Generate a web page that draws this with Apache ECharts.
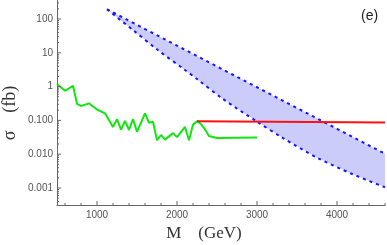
<!DOCTYPE html>
<html><head><meta charset="utf-8">
<script src="https://cdn.jsdelivr.net/npm/echarts@6/dist/echarts.min.js"></script>
<style>html,body{margin:0;padding:0;background:#fff}#c{width:387px;height:245px}</style>
</head><body><div id="c"></div>
<script>
// x tick labels (GeV)
const xTickLabels = [1000, 2000, 3000, 4000];
// y tick labels (fb)
const yTickLabels = ['0.001', '0.010', '0.100', '1', '10', '100'];

// green curve
const greenM = [500, 600, 700, 750, 800, 900, 1000, 1100, 1200, 1250, 1300, 1350, 1400, 1450, 1500, 1600, 1650, 1700, 1750, 1800, 1850, 1950, 2000, 2100, 2150, 2200, 2250, 2300, 2350, 2400, 2500, 3000];
const greenSigma = [1.19, 0.75, 1.06, 0.31, 0.267, 0.32, 0.21, 0.162, 0.064, 0.109, 0.053, 0.097, 0.052, 0.109, 0.046, 0.162, 0.085, 0.091, 0.026, 0.037, 0.027, 0.042, 0.032, 0.064, 0.026, 0.075, 0.095, 0.078, 0.054, 0.0345, 0.030, 0.031];

// red line
const redM = [2250, 4600];
const redSigma = [0.095, 0.086];

// blue band edges
const bandUpperM = [1125, 1500, 2000, 2500, 3000, 3500, 4000, 4600];
const bandUpperSigma = [194, 67, 16.3, 3.94, 0.957, 0.232, 0.0564, 0.0103];
const bandLowerM = [1125, 1450, 1760, 2100, 2250, 2575, 3000, 3325, 3760, 4190, 4600];
const bandLowerSigma = [194, 47, 12.1, 3.1, 1.68, 0.43, 0.092, 0.030, 0.0077, 0.0026, 0.00105];

const X_MIN = 500, X_MAX = 4600, Y_MIN = 0.000314, Y_MAX = 365;

const xMajor = xTickLabels.slice();
const xMinor = [];
for (let v = 600; v <= 4600; v += 200) if (v % 1000 !== 0) xMinor.push(v);
const yMajor = yTickLabels.map(Number);
const yMinor = [];
for (let k = -4; k <= 2; k++) for (let m = 2; m <= 9; m++) {
  const v = m * Math.pow(10, k);
  if (v > Y_MIN && v < Y_MAX) yMinor.push(v);
}

const zip = (a, b) => a.map((v, i) => [v, b[i]]);
const AX = '#666';

function tickSeries(vals, axis, len) {
  return {
    type: 'custom', silent: true, clip: false, z: 10,
    data: vals.map(v => axis === 'x' ? [v, Y_MIN] : [X_MIN, v]),
    renderItem: (params, api) => {
      const p = api.coord([api.value(0), api.value(1)]);
      const shape = axis === 'x'
        ? { x1: p[0], y1: p[1], x2: p[0], y2: p[1] - len }
        : { x1: p[0], y1: p[1], x2: p[0] + len, y2: p[1] };
      return { type: 'line', shape, style: { stroke: AX, lineWidth: 1 } };
    }
  };
}

const chart = echarts.init(document.getElementById('c'), null, { renderer: 'canvas' });
chart.setOption({
  animation: false,
  backgroundColor: '#fff',
  grid: { left: 57, right: 2, top: 0, bottom: 40, containLabel: false },
  xAxis: {
    type: 'value', min: X_MIN, max: X_MAX, interval: 500,
    axisLine: { lineStyle: { color: AX, width: 1 } },
    axisTick: { show: false },
    splitLine: { show: false },
    axisLabel: {
      color: '#555', fontSize: 10, fontFamily: 'Liberation Sans', margin: 5,
      showMinLabel: false, showMaxLabel: false,
      formatter: v => xTickLabels.includes(v) ? String(v) : ''
    }
  },
  yAxis: {
    type: 'log', logBase: 10, min: Y_MIN, max: Y_MAX,
    axisLine: { show: true, lineStyle: { color: AX, width: 1 } },
    axisTick: { show: false },
    splitLine: { show: false },
    axisLabel: {
      color: '#555', fontSize: 10, fontFamily: 'Liberation Sans', margin: 4,
      showMinLabel: false, showMaxLabel: false,
      formatter: v => {
        const i = yMajor.findIndex(t => Math.abs(Math.log10(t) - Math.log10(v)) < 1e-6);
        return i >= 0 ? yTickLabels[i] : '';
      }
    }
  },
  series: [
    {
      type: 'custom', silent: true, z: 1,
      data: [[bandUpperM[0], bandUpperSigma[0]]],
      renderItem: (params, api) => {
        const pts = [];
        bandUpperM.forEach((m, i) => pts.push(api.coord([m, bandUpperSigma[i]])));
        for (let i = bandLowerM.length - 1; i >= 0; i--) pts.push(api.coord([bandLowerM[i], bandLowerSigma[i]]));
        return { type: 'polygon', shape: { points: pts }, style: { fill: '#ccccfa' } };
      }
    },
    { type: 'line', data: zip(bandUpperM, bandUpperSigma), symbol: 'none', z: 3,
      lineStyle: { color: '#1414ff', width: 2, type: [3, 4] } },
    { type: 'line', data: zip(bandLowerM, bandLowerSigma), symbol: 'none', z: 3, smooth: 0.3,
      lineStyle: { color: '#1414ff', width: 2, type: [3, 4] } },
    { type: 'line', data: zip(greenM, greenSigma), symbol: 'none', z: 4,
      lineStyle: { color: '#11e611', width: 2 } },
    { type: 'line', data: zip(redM, redSigma), symbol: 'none', z: 5,
      lineStyle: { color: '#ff1010', width: 2 } },
    tickSeries(xMajor, 'x', 4),
    tickSeries(xMinor, 'x', 2),
    tickSeries(yMajor, 'y', 4),
    tickSeries(yMinor, 'y', 2)
  ],
  graphic: [
    { type: 'text', left: 361, top: 9, style: { text: '(e)', font: '14px "Liberation Sans"', fill: '#222' } },
    { type: 'text', x: 204, y: 234, style: { text: 'M    (GeV)', font: '17px "Liberation Serif"', fill: '#333', align: 'center', verticalAlign: 'middle' } },
    { type: 'text', x: 10, y: 113, rotation: Math.PI / 2, style: { text: 'σ    (fb)', font: '18px "Liberation Serif"', fill: '#333', align: 'center', verticalAlign: 'middle' } }
  ]
});
</script></body></html>
